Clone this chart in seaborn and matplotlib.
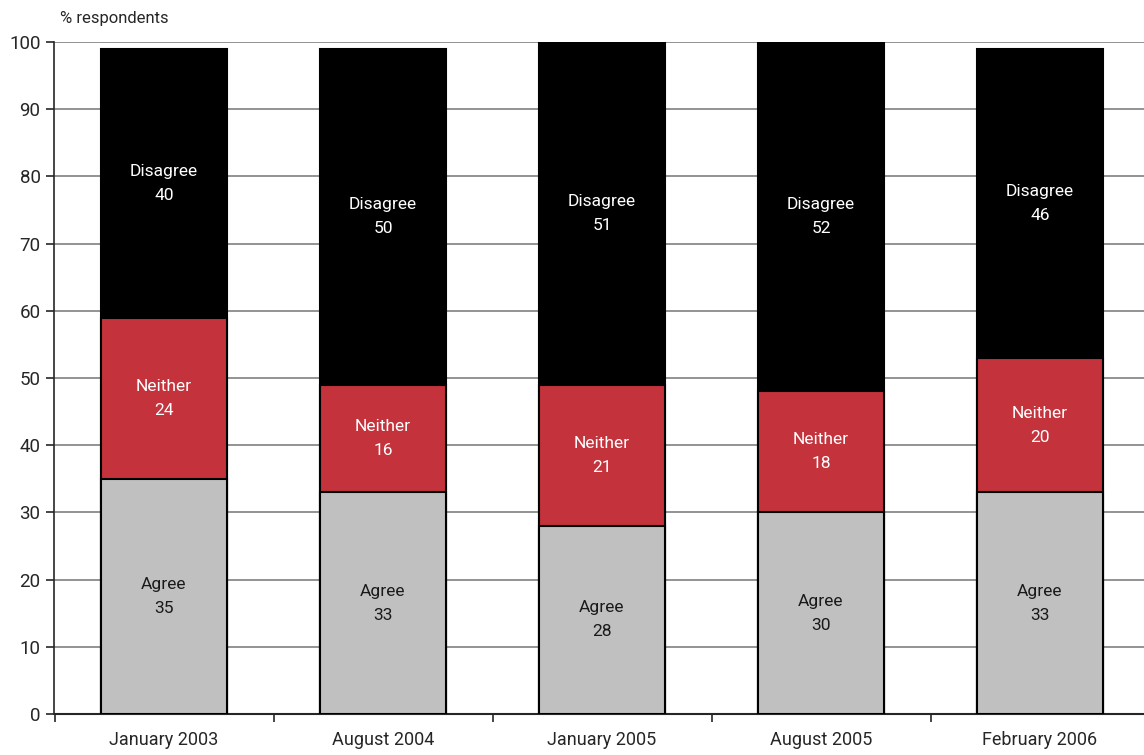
import matplotlib
matplotlib.use("Agg")
import matplotlib.pyplot as plt
import numpy as np
import pandas as pd
import seaborn as sns

# survey waves and answers (% respondents)
waves = ["January 2003", "August 2004", "January 2005", "August 2005", "February 2006"]
agree = [35, 33, 28, 30, 33]
neither = [24, 16, 21, 18, 20]
disagree = [40, 50, 51, 52, 46]

sns.set_style("white")
plt.rcParams["font.family"] = ["Roboto", "DejaVu Sans"]

df = pd.DataFrame({"wave": waves, "agree": agree, "neither": neither, "disagree": disagree})
df["lvl1"] = df["agree"]
df["lvl2"] = df["agree"] + df["neither"]
df["lvl3"] = df["lvl2"] + df["disagree"]

fig = plt.figure(figsize=(11.44, 7.55), dpi=100)
ax = fig.add_axes([54.5 / 1144, 41 / 755, 1095 / 1144, 672 / 755])

# draw stacked bars top-down so each layer covers the one beneath
layers = [("lvl3", "#000000"), ("lvl2", "#c4323c"), ("lvl1", "#c0c0c0")]
for col, colour in layers:
    sns.barplot(data=df, x="wave", y=col, color=colour, width=0.575,
                edgecolor="black", linewidth=1.5, saturation=1, ax=ax, zorder=3)

ax.set_ylim(0, 100)
ax.set_xlim(-0.5, 4.5)
ax.set_yticks(range(0, 101, 10))
ax.yaxis.grid(True, color="#808080", linewidth=1.2, zorder=0)
ax.set_axisbelow(True)
ax.set_xlabel("")
ax.set_ylabel("")
for s in ["top", "right"]:
    ax.spines[s].set_visible(False)
ax.spines["left"].set_linewidth(1.2)
ax.spines["bottom"].set_linewidth(1.5)

ax.tick_params(axis="y", direction="out", length=6, width=1.2, labelsize=13.5, pad=4, left=True)
ax.tick_params(axis="x", which="major", length=0, labelsize=13, pad=12)
ax.set_xticks(np.arange(-0.5, 5, 1), minor=True)
ax.tick_params(axis="x", which="minor", direction="out", length=6, width=1.2, bottom=True)

for i in range(len(waves)):
    segs = [("Agree", 0, agree[i]),
            ("Neither", agree[i], neither[i]),
            ("Disagree", agree[i] + neither[i], disagree[i])]
    for name, base, val in segs:
        ax.text(i, base + val / 2, f"{name}\n{val}", ha="center", va="center",
                color="white" if name != "Agree" else "#1a1a1a",
                fontsize=12.5, linespacing=1.75, zorder=5)

fig.text(60 / 1144, 1 - 18 / 755, "% respondents", ha="left", va="center", fontsize=12)

fig.savefig("out.png", dpi=100)
